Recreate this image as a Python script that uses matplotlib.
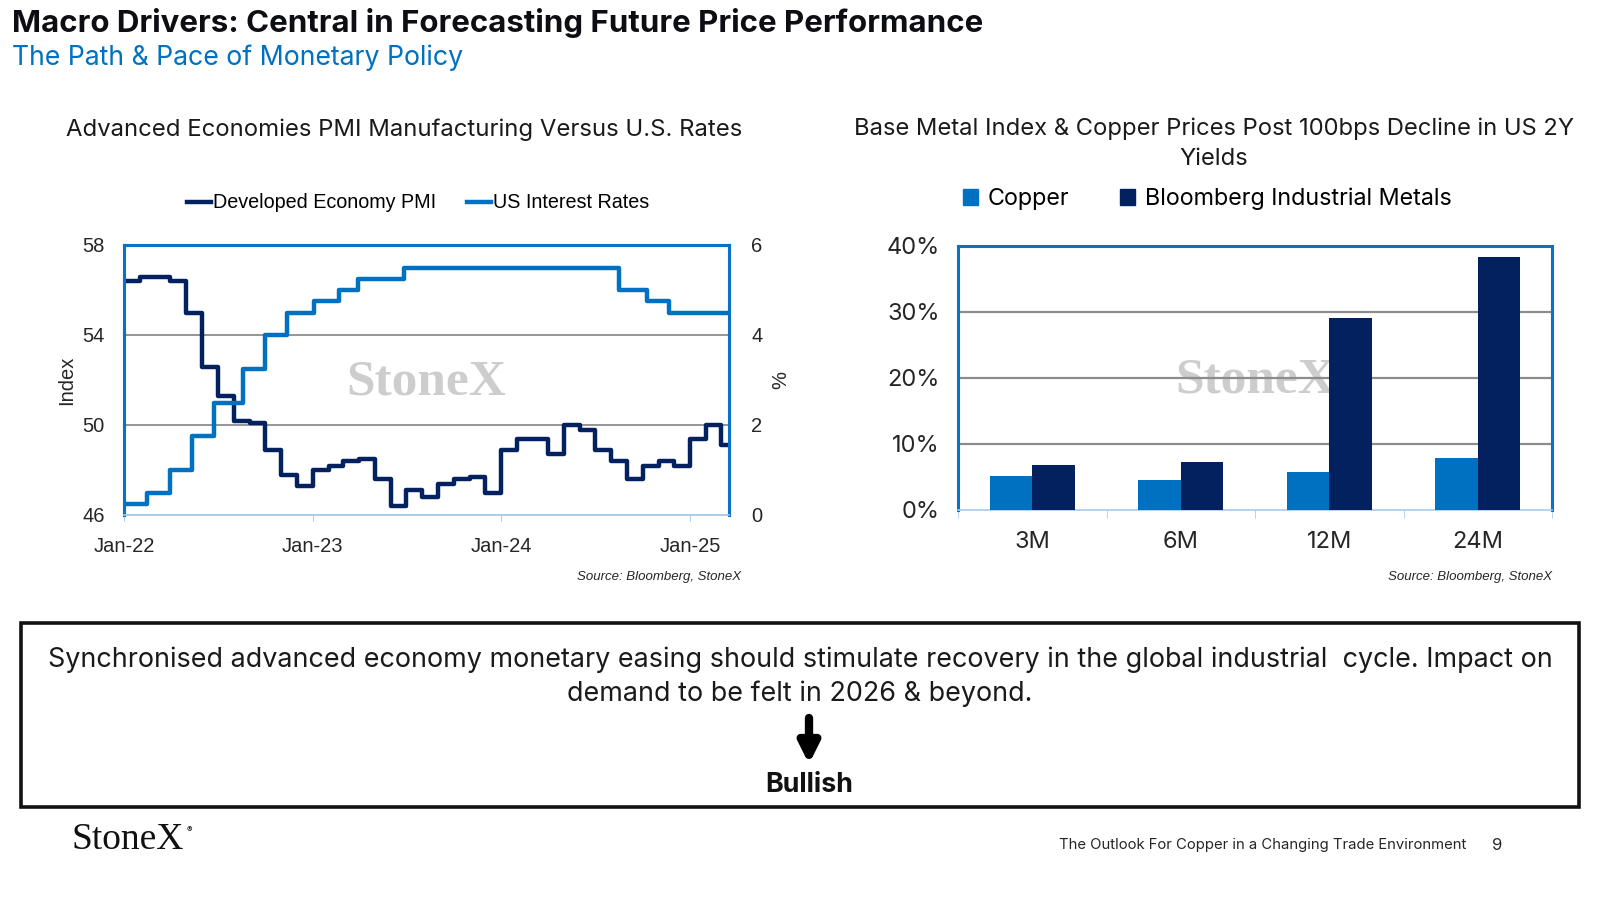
import pandas as pd
import matplotlib
matplotlib.use("Agg")
import matplotlib.pyplot as plt
import matplotlib.dates as mdates
from matplotlib.patches import Rectangle, Patch
from matplotlib.lines import Line2D

# --- data: left chart (monthly PMI, Fed upper bound change points) ---
pmi_start = "2022-01-01"
pmi_values = [56.4, 56.6, 56.6, 56.4, 55.0, 52.6, 51.3, 50.2, 50.1, 48.9, 47.8, 47.3,
              48.0, 48.2, 48.4, 48.5, 47.6, 46.4, 47.1, 46.8, 47.4, 47.6, 47.7, 47.0,
              48.9, 49.4, 49.4, 48.7, 50.0, 49.8, 48.9, 48.4, 47.6, 48.2, 48.4, 48.2,
              49.4, 50.0, 49.1]
rate_dates = ["2022-01-01", "2022-02-14", "2022-04-01", "2022-05-13", "2022-06-25",
              "2022-08-19", "2022-10-01", "2022-11-12", "2023-01-04", "2023-02-21",
              "2023-03-30", "2023-06-26", "2024-08-16", "2024-10-09", "2024-11-20"]
rate_values = [0.25, 0.5, 1.0, 1.75, 2.5, 3.25, 4.0, 4.5, 4.75, 5.0, 5.25, 5.5,
               5.0, 4.75, 4.5]
series_end = "2025-03-17"

# --- data: right chart ---
horizons = ["3M", "6M", "12M", "24M"]
copper = [5.1, 4.6, 5.7, 7.9]
bcom = [6.8, 7.3, 29.1, 38.4]

NAVY = "#03215F"
BLUE = "#0070C0"
FRAME = "#0A72C6"
LIGHT = "#A9CBEA"
GRID = "#8C8C8C"
SANS = ["Inter", "DejaVu Sans"]
CHART = ["Liberation Sans", "DejaVu Sans"]

plt.rcParams["font.family"] = SANS

fig = plt.figure(figsize=(16, 9), dpi=100)


def fx(px):
    return px / 1600


def fy(py):
    return 1 - py / 900


# titles
fig.text(fx(12), fy(23), "Macro Drivers: Central in Forecasting Future Price Performance",
         fontsize=22.5, fontweight="bold", color="#0D0D14", va="center", ha="left")
fig.text(fx(12), fy(58), "The Path & Pace of Monetary Policy",
         fontsize=19.2, color=BLUE, va="center", ha="left")

# ---------------- left chart ----------------
ax = fig.add_axes([fx(124), fy(515), fx(729) - fx(124), fy(245) - fy(515)])
ax2 = ax.twinx()

pmi_x = pd.date_range(pmi_start, periods=len(pmi_values) + 1, freq="MS")
ax.step(pmi_x, pmi_values + [pmi_values[-1]], where="post", color=NAVY, lw=3.2, zorder=3)

rx = pd.to_datetime(rate_dates + [series_end])
ax2.step(rx, rate_values + [rate_values[-1]], where="post", color=BLUE, lw=3.2, zorder=3)

ax.set_xlim(pd.Timestamp(pmi_start), pd.Timestamp(series_end))
ax.set_ylim(46, 58)
ax2.set_ylim(0, 6)
ax.set_yticks([46, 50, 54, 58])
ax2.set_yticks([0, 2, 4, 6])
for y in [50, 54]:
    ax.axhline(y, color=GRID, lw=1.3, zorder=1)

ax.xaxis.set_major_locator(mdates.YearLocator())
ax.xaxis.set_major_formatter(mdates.DateFormatter("%b-%y"))
ax.tick_params(axis="x", length=4, color=LIGHT, labelsize=14.5, pad=12)
ax.tick_params(axis="y", length=0, labelsize=14.5, pad=14)
ax2.tick_params(axis="y", length=0, labelsize=14.5, pad=16)
for lab in ax.get_xticklabels() + ax.get_yticklabels() + ax2.get_yticklabels():
    lab.set_family(CHART)
    lab.set_color("#262626")

for a in (ax, ax2):
    for s in ["top", "left", "right"]:
        a.spines[s].set_color(FRAME)
        a.spines[s].set_linewidth(2.2)
    a.spines["bottom"].set_color(LIGHT)
    a.spines["bottom"].set_linewidth(1.2)

ax.set_ylabel("Index", fontsize=14.5, family=CHART, labelpad=4, color="#262626")
ax2.set_ylabel("%", fontsize=14.5, family=CHART, labelpad=6, color="#262626")

ax.text(0.5, 0.49, "StoneX", transform=ax.transAxes, ha="center", va="center",
        fontsize=37, family="Liberation Serif", fontweight="bold", color="#CDCDCD", zorder=0)

fig.text(fx(404), fy(130), "Advanced Economies PMI Manufacturing Versus U.S. Rates",
         fontsize=17.2, ha="center", va="center", color="#1A1A1A")
left_handles = [Line2D([], [], color=NAVY, lw=3.2), Line2D([], [], color=BLUE, lw=3.2)]
ax.legend(left_handles, ["Developed Economy PMI", "US Interest Rates"],
          loc="center", bbox_to_anchor=(fx(418), fy(203)), bbox_transform=fig.transFigure,
          ncol=2, frameon=False, handlelength=1.2, handletextpad=0.1, columnspacing=1.6,
          prop={"family": CHART, "size": 14.2})
fig.text(fx(741), fy(577), "Source: Bloomberg, StoneX", fontsize=9.5, style="italic",
         family=CHART, ha="right", va="center", color="#262626")

# ---------------- right chart ----------------
bx = fig.add_axes([fx(958), fy(510), fx(1552) - fx(958), fy(246) - fy(510)])
pos = list(range(len(horizons)))
w = 0.285
bx.bar([p - w / 2 for p in pos], copper, width=w, color=BLUE, zorder=3)
bx.bar([p + w / 2 for p in pos], bcom, width=w, color=NAVY, zorder=3)
bx.set_xlim(-0.5, len(horizons) - 0.5)
bx.set_ylim(0, 40)
bx.set_yticks([0, 10, 20, 30, 40])
bx.set_yticklabels([f"{v}%" for v in [0, 10, 20, 30, 40]])
for y in [10, 20, 30]:
    bx.axhline(y, color=GRID, lw=1.6, zorder=1)
bx.set_xticks(pos)
bx.set_xticklabels(horizons)
bx.set_xticks([p - 0.5 for p in pos] + [len(horizons) - 0.5], minor=True)
bx.tick_params(axis="x", which="major", length=0, labelsize=17, pad=15, labelcolor="#262626")
bx.tick_params(axis="x", which="minor", length=6, color=LIGHT)
bx.tick_params(axis="y", length=0, labelsize=17, pad=13, labelcolor="#262626")
for s in ["top", "left", "right"]:
    bx.spines[s].set_color(FRAME)
    bx.spines[s].set_linewidth(2.2)
bx.spines["bottom"].set_color(LIGHT)
bx.spines["bottom"].set_linewidth(1.2)

bx.text(0.50, 0.49, "StoneX", transform=bx.transAxes, ha="center", va="center",
        fontsize=37, family="Liberation Serif", fontweight="bold", color="#CDCDCD", zorder=0)

fig.text(fx(1214), fy(144), "Base Metal Index & Copper Prices Post 100bps Decline in US 2Y\nYields",
         fontsize=17.1, ha="center", va="center", color="#1A1A1A", linespacing=1.45)
right_handles = [Patch(color=BLUE), Patch(color=NAVY)]
bx.legend(right_handles, ["Copper", "Bloomberg Industrial Metals"],
          loc="center", bbox_to_anchor=(fx(1207), fy(199)), bbox_transform=fig.transFigure,
          ncol=2, frameon=False, handlelength=0.65, handleheight=0.65, handletextpad=0.4,
          columnspacing=2.2, prop={"size": 16.8})
fig.text(fx(1552), fy(577), "Source: Bloomberg, StoneX", fontsize=9.5, style="italic",
         family=CHART, ha="right", va="center", color="#262626")

# ---------------- conclusion box ----------------
fig.add_artist(Rectangle((fx(21), fy(807)), fx(1579) - fx(21), fy(623) - fy(807),
                         transform=fig.transFigure, fill=False, lw=2.6, edgecolor="#111111"))
fig.text(0.5, fy(677),
         "Synchronised advanced economy monetary easing should stimulate recovery in the global industrial  cycle. Impact on\ndemand to be felt in 2026 & beyond.",
         fontsize=19.4, ha="center", va="center", color="#1A1A1A", linespacing=1.38)
fig.add_artist(plt.Annotation("", xy=(fx(809), fy(764)), xytext=(fx(809), fy(718)),
                              xycoords="figure fraction", textcoords="figure fraction",
                              arrowprops=dict(arrowstyle="-|>", lw=6, color="black",
                                              mutation_scale=30, shrinkA=0, shrinkB=0)))
fig.text(fx(809), fy(785), "Bullish", fontsize=19.4, fontweight="bold", ha="center",
         va="center", color="#111111")

# footer
fig.text(fx(71), fy(840), "StoneX", fontsize=27, family="Liberation Serif",
         ha="left", va="center", color="#111111")
fig.text(fx(187), fy(830), "®", fontsize=6, ha="left", va="center", color="#111111")
fig.text(fx(1466), fy(845), "The Outlook For Copper in a Changing Trade Environment",
         fontsize=10.7, ha="right", va="center", color="#262626")
fig.text(fx(1497), fy(845), "9", fontsize=12, ha="center", va="center", color="#262626")

fig.savefig("out.png", dpi=100)
